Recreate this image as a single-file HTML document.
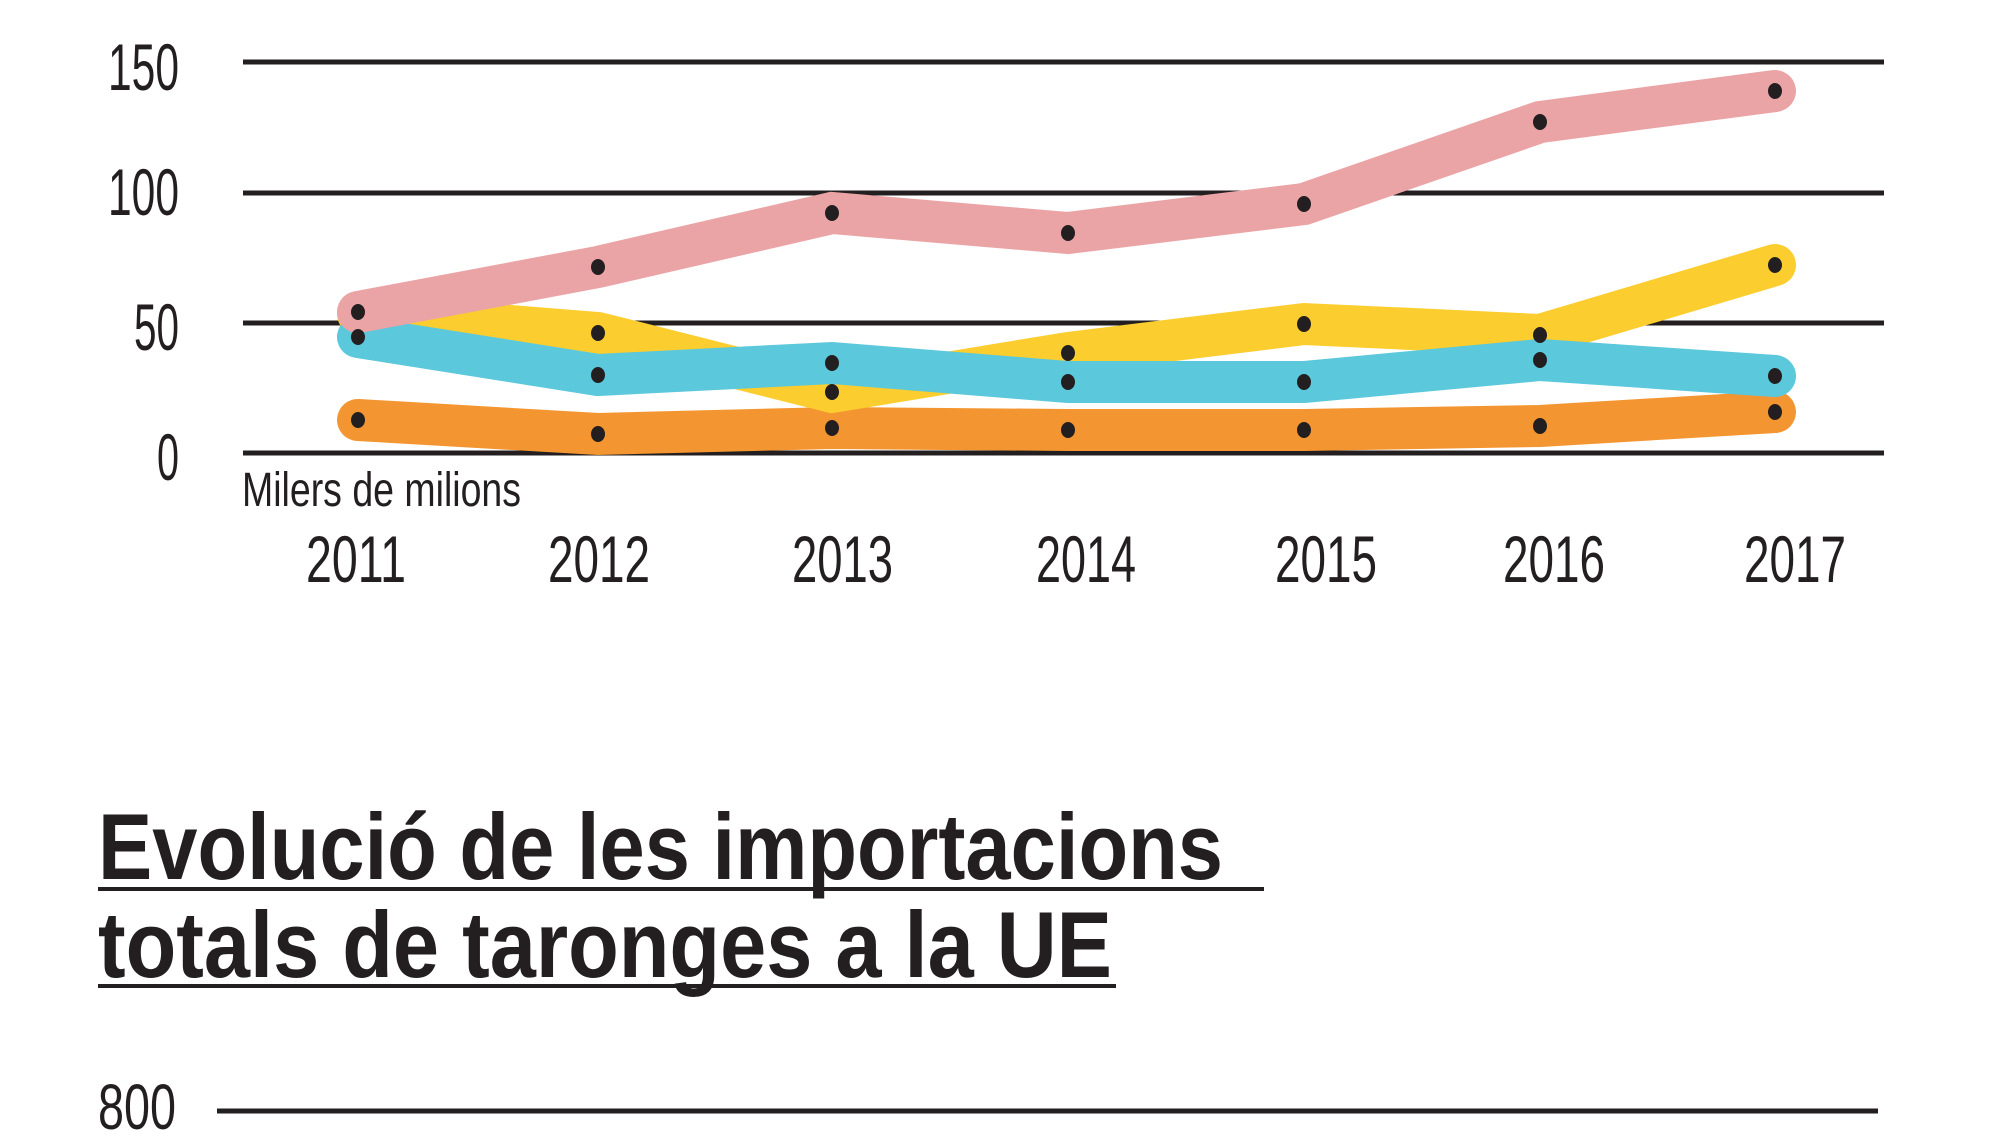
<!DOCTYPE html>
<html><head><meta charset="utf-8"><style>
html,body{margin:0;padding:0;background:#fff;}
svg{display:block;}
text{font-family:"Liberation Sans Narrow","Liberation Sans",sans-serif;fill:#231f20;}
</style></head><body>
<svg width="2000" height="1143" viewBox="0 0 2000 1143" xmlns="http://www.w3.org/2000/svg">
<g stroke="#231f20" stroke-width="5">
<line x1="243" y1="62" x2="1884" y2="62"/>
<line x1="243" y1="193" x2="1884" y2="193"/>
<line x1="243" y1="323" x2="1884" y2="323"/>
<line x1="243" y1="453" x2="1884" y2="453"/>
<line x1="217" y1="1111" x2="1878" y2="1111"/>
</g>
<g font-size="66">
<text x="108" y="90" textLength="71" lengthAdjust="spacingAndGlyphs">150</text>
<text x="108" y="215" textLength="71" lengthAdjust="spacingAndGlyphs">100</text>
<text x="134" y="350" textLength="45" lengthAdjust="spacingAndGlyphs">50</text>
<text x="157" y="480" textLength="22" lengthAdjust="spacingAndGlyphs">0</text>
</g>
<text x="242" y="506" font-size="48" textLength="279" lengthAdjust="spacingAndGlyphs">Milers de milions</text>
<g font-size="66">
<text x="306" y="582" textLength="100" lengthAdjust="spacingAndGlyphs">2011</text>
<text x="548" y="582" textLength="102" lengthAdjust="spacingAndGlyphs">2012</text>
<text x="792" y="582" textLength="101" lengthAdjust="spacingAndGlyphs">2013</text>
<text x="1036" y="582" textLength="100" lengthAdjust="spacingAndGlyphs">2014</text>
<text x="1275" y="582" textLength="102" lengthAdjust="spacingAndGlyphs">2015</text>
<text x="1503" y="582" textLength="102" lengthAdjust="spacingAndGlyphs">2016</text>
<text x="1744" y="582" textLength="102" lengthAdjust="spacingAndGlyphs">2017</text>
</g>
<g fill="none" stroke-width="42" stroke-linecap="round" stroke-linejoin="miter">
<polyline stroke="#f39530" points="358,420 598,434 832,428 1068,430 1304,430 1540,426 1775,412"/>
<polyline stroke="#fccd2e" points="358,314 598,333 832,392 1068,353 1304,324 1540,335 1775,265"/>
<polyline stroke="#5bc8db" points="358,337 598,375 832,363 1068,382 1304,382 1540,360 1775,376"/>
<polyline stroke="#eba4a6" points="358,312 598,267 832,213 1068,233 1304,204 1540,122 1775,91"/>
</g>
<g fill="#231f20">
<ellipse cx="358" cy="312" rx="7" ry="8"/><ellipse cx="598" cy="267" rx="7" ry="8"/><ellipse cx="832" cy="213" rx="7" ry="8"/><ellipse cx="1068" cy="233" rx="7" ry="8"/><ellipse cx="1304" cy="204" rx="7" ry="8"/><ellipse cx="1540" cy="122" rx="7" ry="8"/><ellipse cx="1775" cy="91" rx="7" ry="8"/>
<ellipse cx="598" cy="333" rx="7" ry="8"/><ellipse cx="832" cy="392" rx="7" ry="8"/><ellipse cx="1068" cy="353" rx="7" ry="8"/><ellipse cx="1304" cy="324" rx="7" ry="8"/><ellipse cx="1540" cy="335" rx="7" ry="8"/><ellipse cx="1775" cy="265" rx="7" ry="8"/>
<ellipse cx="358" cy="337" rx="7" ry="8"/><ellipse cx="598" cy="375" rx="7" ry="8"/><ellipse cx="832" cy="363" rx="7" ry="8"/><ellipse cx="1068" cy="382" rx="7" ry="8"/><ellipse cx="1304" cy="382" rx="7" ry="8"/><ellipse cx="1540" cy="360" rx="7" ry="8"/><ellipse cx="1775" cy="376" rx="7" ry="8"/>
<ellipse cx="358" cy="420" rx="7" ry="8"/><ellipse cx="598" cy="434" rx="7" ry="8"/><ellipse cx="832" cy="428" rx="7" ry="8"/><ellipse cx="1068" cy="430" rx="7" ry="8"/><ellipse cx="1304" cy="430" rx="7" ry="8"/><ellipse cx="1540" cy="426" rx="7" ry="8"/><ellipse cx="1775" cy="412" rx="7" ry="8"/>
</g>
<g font-size="94" font-weight="bold">
<text x="98" y="879" textLength="1125" lengthAdjust="spacingAndGlyphs">Evolució de les importacions</text>
<text x="98" y="977" textLength="1014" lengthAdjust="spacingAndGlyphs">totals de taronges a la UE</text>
</g>
<g stroke="#231f20" stroke-width="4">
<line x1="98" y1="889" x2="1264" y2="889"/>
<line x1="98" y1="986" x2="1116" y2="986"/>
</g>
<text x="98" y="1129" font-size="64" textLength="78" lengthAdjust="spacingAndGlyphs">800</text>
</svg>
</body></html>
